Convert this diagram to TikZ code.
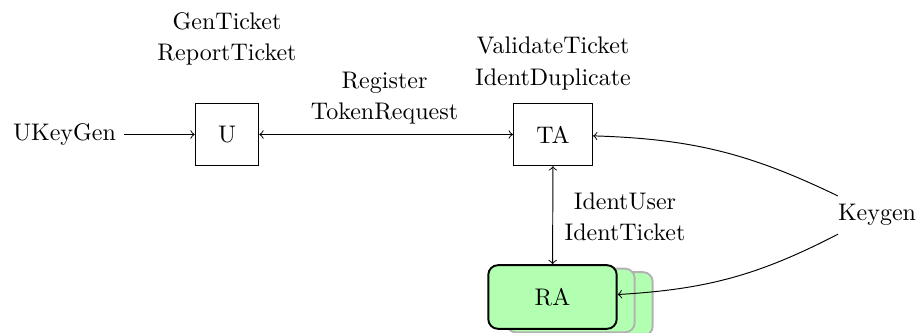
\documentclass[tikz,border=0pt]{standalone}
\usetikzlibrary{arrows}
\begin{document}
\begin{tikzpicture}[x=0.41667pt,y=-0.41667pt,
  box/.style={draw,minimum height=26pt,inner sep=0pt},
  rabox/.style={draw,thick,rounded corners=4pt,fill=green!30,minimum width=53.5pt,minimum height=26.5pt,inner sep=0pt},
  racopy/.style={draw=black!30,thick,rounded corners=4pt,fill=green!30,minimum width=53.5pt,minimum height=26.5pt,inner sep=0pt},
  lbl/.style={align=center},
  conn/.style={->}]
\useasboundingbox (0,0) rectangle (919,333);
\node[lbl] (ukg) at (64.5,134.5) {UKeyGen};
\node[box,minimum width=26.5pt] (U) at (227,134.5) {U};
\node[box,minimum width=33pt] (TA) at (553,134.5) {TA};
\node[racopy] (RAc2) at (588.5,304) {};
\node[racopy] (RAc1) at (570.5,300.5) {};
\node[rabox] (RA) at (552.5,297) {RA};
\node[lbl] (kg) at (877,215) {Keygen};
\node[lbl] (l1) at (227,38.5) {GenTicket\\[1pt]ReportTicket};
\node[lbl] (l2) at (553,63.5) {ValidateTicket\\[1pt]IdentDuplicate};
\node[lbl] (l3) at (384.5,98) {Register\\[1pt]TokenRequest};
\node[lbl] (l4) at (625,216.5) {IdentUser\\[1pt]IdentTicket};
\draw[conn] (ukg) -- (U);
\draw[<->] (U) -- (TA);
\draw[<->] (TA) -- (RA);
\draw[conn] (kg) to[bend right=12] (TA);
\draw[conn] (kg) to[bend left=12] (RA);
\end{tikzpicture}
\end{document}
